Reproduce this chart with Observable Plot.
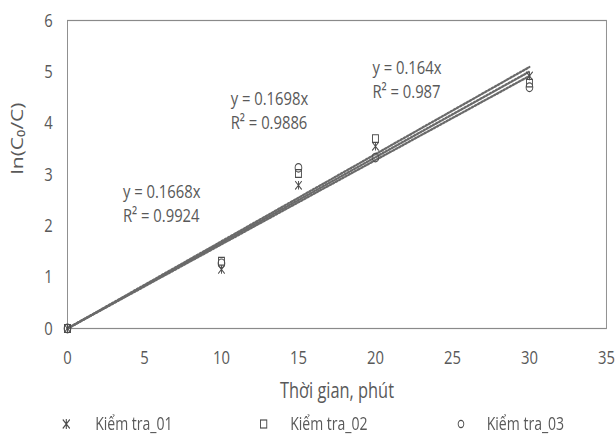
<!DOCTYPE html>
<html>
<head>
<meta charset="utf-8">
<script src="https://cdn.jsdelivr.net/npm/d3@7"></script>
<script src="https://cdn.jsdelivr.net/npm/@observablehq/plot@0.6"></script>
<style>
  html, body { margin: 0; padding: 0; overflow: hidden; background: #fff; }
  #wrap { width: 788px; transform: scaleX(0.78); transform-origin: 0 0; font-family: "Open Sans", sans-serif; color: #595959; }
  #legend { position: relative; height: 30px; width: 788px; font-size: 18px; }
  .item { position: absolute; top: 10px; height: 17px; line-height: 17px; white-space: nowrap; }
  .item svg { position: absolute; top: 3px; }
  .item span { position: absolute; }
</style>
</head>
<body>
<div id="wrap"></div>
<script>
// ---- data ----
const times = [0, 10, 15, 20, 30];
const seriesNames = ["Kiểm tra_01", "Kiểm tra_02", "Kiểm tra_03"];
const kt01 = [0, 1.15, 2.79, 3.55, 4.92];
const kt02 = [0, 1.31, 3.02, 3.70, 4.78];
const kt03 = [0, 1.27, 3.13, 3.33, 4.70];
const slopes = [0.1668, 0.1698, 0.164];
const fitRange = [0, 30];
const eqLabels = ["y = 0.1668x\nR² = 0.9924", "y = 0.1698x\nR² = 0.9886", "y = 0.164x\nR² = 0.987"];
const eqX = [3.6, 10.6, 19.8];
const eqY = [2.45, 4.27, 4.87];
const xTicks = [0, 5, 10, 15, 20, 25, 30, 35];
const yTicks = [0, 1, 2, 3, 4, 5, 6];

// ---- symbols ----
const starSym = { draw(ctx, size) { const r = Math.sqrt(size) * 0.55;
  ctx.moveTo(-r, -r); ctx.lineTo(r, r); ctx.moveTo(-r, r); ctx.lineTo(r, -r);
  ctx.moveTo(0, -r); ctx.lineTo(0, r); } };
const symbols = [starSym, "square", "circle"];

const points = [];
[kt01, kt02, kt03].forEach((arr, i) => arr.forEach((v, j) => points.push({t: times[j], v, s: seriesNames[i]})));
const fits = [];
slopes.forEach((k, i) => fitRange.forEach(t => fits.push({t, v: k * t, s: i})));
const eqs = eqLabels.map((text, i) => ({text, x: eqX[i], y: eqY[i]}));

const ink = "#595959";
const chart = Plot.plot({
  width: 788, height: 405,
  marginTop: 20, marginBottom: 77, marginLeft: 86, marginRight: 11,
  style: { fontFamily: "Open Sans, sans-serif", fontSize: "19px", color: ink, background: "#fff" },
  x: { domain: [0, 35], ticks: xTicks, tickFormat: "d", tickSize: 0, tickPadding: 22, label: null },
  y: { domain: [0, 6], ticks: yTicks, tickFormat: "d", tickSize: 0, tickPadding: 19, label: null },
  symbol: { domain: seriesNames, range: symbols },
  marks: [
    Plot.frame({ stroke: "#8a8a8a", strokeWidth: 1.2 }),
    Plot.line(fits, { x: "t", y: "v", z: "s", stroke: "#6a6a6a", strokeWidth: 2.4, strokeDasharray: "2.4,2" }),
    Plot.dot(points, { x: "t", y: "v", symbol: "s", r: 4.3, stroke: "#4d4d4d", strokeWidth: 1.2, fill: "none" }),
    Plot.text(eqs, { x: "x", y: "y", text: "text", textAnchor: "start", lineAnchor: "middle", lineHeight: 1.25, fontSize: 19, fill: ink }),
    Plot.text(["Thời gian, phút"], { frameAnchor: "bottom", dy: 63, lineAnchor: "middle", fontSize: 21, fill: ink }),
    Plot.text(["ln(C₀/C)"], { frameAnchor: "left", dx: -64, rotate: -90, lineAnchor: "middle", fontSize: 21, fill: ink })
  ]
});
const wrap = document.getElementById("wrap");
wrap.appendChild(chart);

// ---- legend ----
const legend = document.createElement("div");
legend.id = "legend";
const legendPos = [[79, 122], [332, 372], [585, 624]];
const shapes = [
  '<path d="M1.5,1.5L10.5,10.5M1.5,10.5L10.5,1.5M6,1L6,11" stroke="#4d4d4d" stroke-width="1.4" fill="none"/>',
  '<rect x="2" y="2" width="8" height="8" stroke="#4d4d4d" stroke-width="1.2" fill="none"/>',
  '<circle cx="6" cy="6" r="3.6" stroke="#4d4d4d" stroke-width="1.2" fill="none"/>'
];
seriesNames.forEach((name, i) => {
  const it = document.createElement("div");
  it.className = "item";
  it.style.left = legendPos[i][0] + "px";
  it.innerHTML = `<svg width="12" height="12" style="left:0">${shapes[i]}</svg><span style="left:${legendPos[i][1] - legendPos[i][0]}px">${name}</span>`;
  legend.appendChild(it);
});
wrap.appendChild(legend);
</script>
</body>
</html>
